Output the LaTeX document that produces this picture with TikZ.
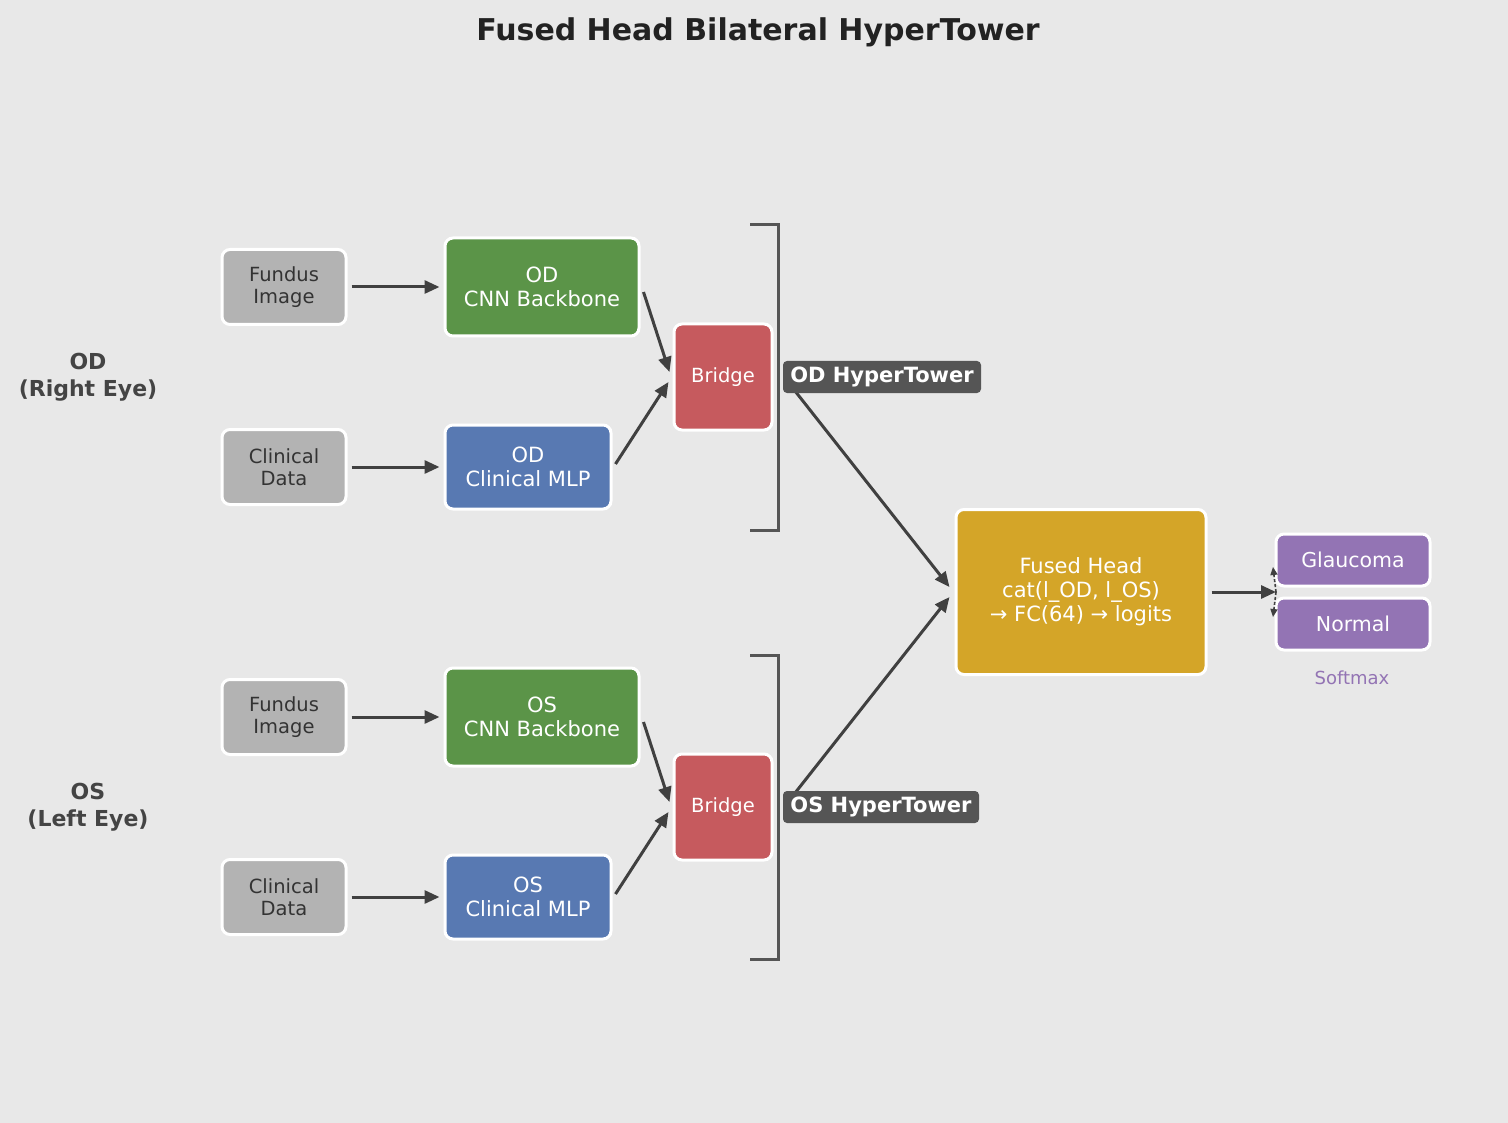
\documentclass[tikz,border=0pt]{standalone}
\usepackage{fontspec}
\setmainfont{DejaVu Sans}
\usetikzlibrary{arrows.meta}
\definecolor{bg}{HTML}{E8E8E8}
\definecolor{grayfill}{HTML}{B3B3B3}
\definecolor{graytext}{HTML}{333333}
\definecolor{greenfill}{HTML}{5B9448}
\definecolor{bluefill}{HTML}{5879B2}
\definecolor{redfill}{HTML}{C65A5E}
\definecolor{goldfill}{HTML}{D4A528}
\definecolor{purplefill}{HTML}{9374B4}
\definecolor{labelfill}{HTML}{555555}
\definecolor{arrowcol}{HTML}{404040}
\definecolor{bracketcol}{HTML}{555555}
\definecolor{sidetext}{HTML}{444444}
\definecolor{titletext}{HTML}{222222}
\begin{document}
\begin{tikzpicture}[x=1pt,y=-1pt,
  box/.style={rounded corners=8pt, draw=white, line width=3pt, inner sep=0pt, align=center},
  inbox/.style={box, fill=grayfill, text=graytext, minimum width=124pt, minimum height=75pt, font=\fontsize{19.5}{22.5}\selectfont},
  cnnbox/.style={box, fill=greenfill, text=white, minimum width=194pt, minimum height=98pt, font=\fontsize{21}{24}\selectfont},
  mlpbox/.style={box, fill=bluefill, text=white, minimum width=166pt, minimum height=84pt, font=\fontsize{21}{24}\selectfont},
  bridgebox/.style={box, fill=redfill, text=white, minimum width=98pt, minimum height=106pt, font=\fontsize{19.5}{22}\selectfont},
  headbox/.style={box, fill=goldfill, text=white, minimum width=250pt, minimum height=165pt, font=\fontsize{21}{23.8}\selectfont},
  outbox/.style={box, fill=purplefill, text=white, minimum width=154pt, minimum height=52pt, font=\fontsize{20.5}{23}\selectfont},
  towerlabel/.style={rounded corners=4pt, fill=labelfill, text=white, inner sep=0pt, minimum width=198pt, minimum height=32pt, font=\fontsize{21}{24}\bfseries},
  sidelabel/.style={text=sidetext, align=center, font=\fontsize{22}{27}\bfseries},
  conn/.style={draw=arrowcol, line width=3pt, -{Stealth[length=15pt,width=13pt,inset=0pt]}},
  smallconn/.style={draw=arrowcol, line width=1.6pt, dash pattern=on 3pt off 2pt, -{Stealth[length=8pt,width=7pt,inset=0pt]}},
  bracket/.style={draw=bracketcol, line width=3pt}
]
\useasboundingbox (0,0) rectangle (1508,1123);
\fill[bg] (0,0) rectangle (1508,1123);

\node[text=titletext, font=\fontsize{30}{34}\bfseries] (title) at (758,32) {Fused Head Bilateral HyperTower};

% OD branch
\node[sidelabel] (odlabel) at (88,377) {OD\\(Right Eye)};
\node[inbox] (odfundus) at (284,287) {Fundus\\Image};
\node[inbox] (odclin) at (284,467) {Clinical\\Data};
\node[cnnbox] (odcnn) at (542,287) {OD\\CNN Backbone};
\node[mlpbox] (odmlp) at (528,467) {OD\\Clinical MLP};
\node[bridgebox] (odbridge) at (723,377) {Bridge};
\draw[bracket] (750,225) -- (778,225) -- (778,530) -- (750,530);

% OS branch
\node[sidelabel] (oslabel) at (88,807) {OS\\(Left Eye)};
\node[inbox] (osfundus) at (284,717) {Fundus\\Image};
\node[inbox] (osclin) at (284,897) {Clinical\\Data};
\node[cnnbox] (oscnn) at (542,717) {OS\\CNN Backbone};
\node[mlpbox] (osmlp) at (528,897) {OS\\Clinical MLP};
\node[bridgebox] (osbridge) at (723,807) {Bridge};
\draw[bracket] (750,655) -- (778,655) -- (778,959) -- (750,959);

% Fused head and outputs
\node[headbox] (head) at (1081,592) {Fused Head\\cat(l\_OD, l\_OS)\\→ FC(64) → logits};
\node[outbox] (glau) at (1353,560) {Glaucoma};
\node[outbox] (norm) at (1353,624) {Normal};
\node[text=purplefill, font=\fontsize{18}{21}\selectfont] (softmax) at (1352,678) {Softmax};
\coordinate (split) at (1276,592);
\coordinate (gtip) at (1273,567);
\coordinate (ntip) at (1273,617);

% connectors (yshift is upward on the page)
\draw[conn] (odfundus.east) ++(4,0) -- ([xshift=-4pt]odcnn.west);
\draw[conn] (odclin.east) ++(4,0) -- ([xshift=-4pt]odmlp.west);
\draw[conn] ([xshift=3pt,yshift=-5pt]odcnn.east) -- ([xshift=-3pt,yshift=5pt]odbridge.west);
\draw[conn] ([xshift=3pt,yshift=3pt]odmlp.east) -- ([xshift=-4pt,yshift=-5pt]odbridge.west);
\draw[conn] (osfundus.east) ++(4,0) -- ([xshift=-4pt]oscnn.west);
\draw[conn] (osclin.east) ++(4,0) -- ([xshift=-4pt]osmlp.west);
\draw[conn] ([xshift=3pt,yshift=-5pt]oscnn.east) -- ([xshift=-3pt,yshift=5pt]osbridge.west);
\draw[conn] ([xshift=3pt,yshift=3pt]osmlp.east) -- ([xshift=-4pt,yshift=-5pt]osbridge.west);
\draw[conn] ([xshift=16pt,yshift=-7pt]odbridge.east) -- ([xshift=-5pt,yshift=5pt]head.west);
\draw[conn] ([xshift=16pt,yshift=7pt]osbridge.east) -- ([xshift=-5pt,yshift=-5pt]head.west);
\draw[conn] ([xshift=4pt]head.east) -- (split);
\draw[smallconn] (split) -- (gtip);
\draw[smallconn] (split) -- (ntip);

% tower labels on top of connectors
\node[towerlabel] (odtower) at (882,377) {OD HyperTower};
\node[towerlabel, minimum width=196pt] (ostower) at (881,807) {OS HyperTower};
\end{tikzpicture}
\end{document}
